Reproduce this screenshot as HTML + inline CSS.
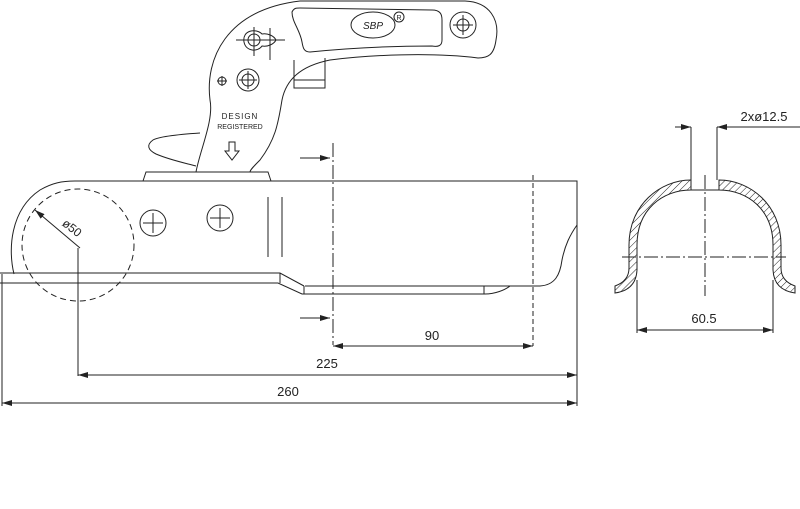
<!DOCTYPE html>
<html><head><meta charset="utf-8"><style>
html,body{margin:0;padding:0;background:#fff;}
svg{display:block;}
text{font-family:"Liberation Sans",sans-serif;fill:#222;}
</style></head><body>
<svg width="800" height="509" viewBox="0 0 800 509" xmlns="http://www.w3.org/2000/svg">
<defs>
<pattern id="h" width="5" height="5" patternUnits="userSpaceOnUse" patternTransform="rotate(45)">
<rect width="5" height="5" fill="#fff"/><line x1="0" y1="0" x2="0" y2="5" stroke="#222" stroke-width="1"/></pattern>
<marker id="a" viewBox="0 0 10 6" refX="10" refY="3" markerWidth="10" markerHeight="6" orient="auto-start-reverse" markerUnits="userSpaceOnUse"><path d="M0,0 L10,3 L0,6 Z" fill="#222"/></marker>
</defs>
<g fill="none" stroke="#222" stroke-width="1">
<!-- handle -->
<path d="M196,172 C200,150 214,120 210,100 C205,60 225,10 300,1 L465,1 C490,2 500,20 496,40 C494,55 488,58 478,58 C430,52 370,55 330,60 C300,66 286,80 282,100 C278,125 275,140 260,160 C254,166 250,170 250,172"/>
<path d="M292,12 C294,8 296,8 300,8 L432,10 C440,10 442,14 442,20 L442,40 C442,46 438,47 432,46 C390,46 350,48 310,52 C304,52 303,48 302,42 C300,30 292,22 292,12 Z"/>
<ellipse cx="373" cy="25" rx="22" ry="13"/>
<circle cx="399" cy="17" r="5"/>
<circle cx="463" cy="25" r="13"/><circle cx="463" cy="25" r="6"/>
<path d="M453,25 H473 M463,15 V35"/>
<path d="M262,34 C268,33 274,36 276,40 C274,44 268,47 262,46 C258,52 246,52 244,42 C242,30 256,28 262,34 Z"/>
<circle cx="254" cy="40" r="6"/>
<path d="M236,40 H285 M254,27 V56 M270,28 V60"/>
<circle cx="248" cy="80" r="11"/><circle cx="248" cy="80" r="6"/>
<path d="M239,80 H257 M248,71 V89"/>
<circle cx="222" cy="81" r="4"/><path d="M217,81 H227 M222,76 V86"/>
<path d="M294,60 V88 H325 V58"/><path d="M294,80 H325"/>
<path d="M200,133 C185,134 160,136 153,140 C146,145 148,150 156,154 C170,160 185,163 196,166"/>
<path d="M229,142 H235 V151 H239 L232,160 L225,151 H229 Z"/>
<path d="M143,181 L146,172 H268 L271,181"/>
<!-- body -->
<path d="M14,274 C8,250 10,210 40,190 C52,183 62,181 75,181 L577,181 L577,225 C570,235 565,245 562,260 C560,275 555,285 540,286 L305,286"/>
<path d="M0,273 H280 L304,286 M0,283 H278 L302,294 H485 C495,294 505,290 510,286"/>
<path d="M280,273 V283 M304,286 V294 M484,286 V294"/>
<circle cx="78" cy="245" r="56" stroke-dasharray="6,4"/>
<circle cx="153" cy="223" r="13"/><path d="M143,223 H163 M153,213 V233"/>
<circle cx="220" cy="218" r="13"/><path d="M210,218 H230 M220,208 V228"/>
<path d="M268,197 V257 M282,197 V257"/>
<line x1="80" y1="248" x2="35" y2="210" marker-end="url(#a)"/>
<!-- dimensions -->
<path d="M333,143 V345" stroke-dasharray="14,3,2,3"/>
<path d="M533,175 V346" stroke-dasharray="5,3"/>
<line x1="300" y1="158" x2="330" y2="158" marker-end="url(#a)"/>
<line x1="300" y1="318" x2="330" y2="318" marker-end="url(#a)"/>
<line x1="333" y1="346" x2="533" y2="346" marker-start="url(#a)" marker-end="url(#a)"/>
<path d="M78,248 V376 M577,181 V406 M2,274 V406"/>
<line x1="78" y1="375" x2="577" y2="375" marker-start="url(#a)" marker-end="url(#a)"/>
<line x1="2" y1="403" x2="577" y2="403" marker-start="url(#a)" marker-end="url(#a)"/>
<!-- section -->
<path fill="url(#h)" d="M615,293 L615,286 Q629,281 629,268 L629,245 C629,205 660,180 691,180 L691,190 C662,190 637,210 637,245 L637,270 Q636,290 615,293 Z"/>
<path fill="url(#h)" d="M795,293 L795,286 Q781,281 781,268 L781,245 C781,205 750,180 719,180 L719,190 C748,190 773,210 773,245 L773,270 Q774,290 795,293 Z"/>
<path d="M691,190 H719"/>
<path d="M691,127 V180 M717,127 V180 M717,127 H800"/>
<line x1="675" y1="127" x2="691" y2="127" marker-end="url(#a)"/>
<line x1="733" y1="127" x2="717" y2="127" marker-end="url(#a)"/>
<path d="M622,257 H786 M705,175 V296" stroke-dasharray="14,3,2,3"/>
<path d="M637,280 V333 M773,280 V333"/>
<line x1="637" y1="330" x2="773" y2="330" marker-start="url(#a)" marker-end="url(#a)"/>
</g>
<text x="373" y="29" font-size="10" text-anchor="middle" font-style="italic">SBP</text>
<text x="399" y="20" font-size="7" text-anchor="middle">R</text>
<text x="240" y="119" font-size="8" text-anchor="middle" letter-spacing="1">DESIGN</text>
<text x="240" y="129" font-size="7" text-anchor="middle">REGISTERED</text>
<text x="72" y="232" font-size="12" text-anchor="middle" transform="rotate(38 72 228)">ø50</text>
<text x="432" y="340" font-size="13" text-anchor="middle">90</text>
<text x="327" y="368" font-size="13" text-anchor="middle">225</text>
<text x="288" y="396" font-size="13" text-anchor="middle">260</text>
<text x="764" y="121" font-size="13" text-anchor="middle">2xø12.5</text>
<text x="704" y="323" font-size="13" text-anchor="middle">60.5</text>
</svg>
</body></html>
